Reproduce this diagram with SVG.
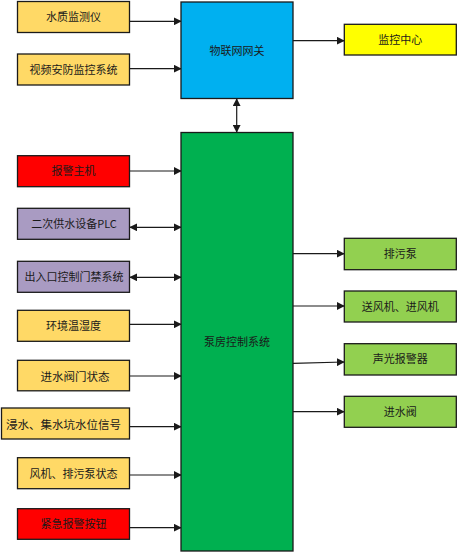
<svg xmlns="http://www.w3.org/2000/svg" width="458" height="554" viewBox="0 0 458 554">
<style>
.b{stroke:#1a1a1a;stroke-width:1.3}
.y{fill:#FFD966}.r{fill:#FF0000}.p{fill:#A99BC2}.g{fill:#92D050}
.t{font-family:"Noto Sans CJK SC","Liberation Sans",sans-serif;font-size:11px;fill:#1a1a1a;text-anchor:middle}
.c line{stroke:#1a1a1a;stroke-width:1.2}
</style>
<defs>
<marker id="ah" viewBox="0 0 10 10" refX="9" refY="5" markerWidth="8" markerHeight="8" markerUnits="userSpaceOnUse" orient="auto-start-reverse">
<path d="M0,0 L10,5 L0,10 z" fill="#1a1a1a"/>
</marker>
</defs>
<rect width="458" height="554" fill="#fff"/>
<g class="c">
<line x1="130" y1="21.3" x2="181" y2="21.3" marker-end="url(#ah)"/>
<line x1="130" y1="68.7" x2="181" y2="68.7" marker-end="url(#ah)"/>
<line x1="293" y1="40.7" x2="344" y2="40.7" marker-end="url(#ah)"/>
<line x1="236.7" y1="99" x2="236.7" y2="132" marker-start="url(#ah)" marker-end="url(#ah)"/>
<line x1="130" y1="171" x2="181" y2="171" marker-end="url(#ah)"/>
<line x1="130" y1="227.3" x2="181" y2="227.3" marker-start="url(#ah)" marker-end="url(#ah)"/>
<line x1="130" y1="277.3" x2="181" y2="277.3" marker-start="url(#ah)" marker-end="url(#ah)"/>
<line x1="130" y1="324.3" x2="181" y2="324.3" marker-end="url(#ah)"/>
<line x1="130" y1="376" x2="181" y2="376" marker-end="url(#ah)"/>
<line x1="130" y1="426.7" x2="181" y2="426.7" marker-end="url(#ah)"/>
<line x1="127" y1="475" x2="181" y2="475" marker-end="url(#ah)"/>
<line x1="130" y1="527.7" x2="181" y2="527.7" marker-end="url(#ah)"/>
<line x1="293" y1="253.7" x2="344" y2="253.7" marker-end="url(#ah)"/>
<line x1="293" y1="306" x2="344" y2="306" marker-end="url(#ah)"/>
<line x1="293" y1="363.3" x2="344" y2="362" marker-end="url(#ah)"/>
<line x1="293" y1="411.7" x2="344" y2="411.7" marker-end="url(#ah)"/>
</g>
<g id="n1"><rect class="b y" x="17.5" y="1.5" width="112" height="31"/><text class="t" x="73.5" y="21">水质监测仪</text></g>
<g id="n2"><rect class="b y" x="17.5" y="54" width="112" height="31"/><text class="t" x="73.5" y="73.5">视频安防监控系统</text></g>
<g id="gw"><rect class="b" fill="#00B0F0" x="181" y="2" width="112" height="96.5"/><text class="t" x="237" y="54.5">物联网网关</text></g>
<g id="mc"><rect class="b" fill="#FFFF00" x="344.3" y="24.3" width="112" height="30.7"/><text class="t" x="400.3" y="44">监控中心</text></g>
<g id="main"><rect class="b" fill="#00B050" x="181" y="132.5" width="112" height="418.5"/><text class="t" x="237" y="346">泵房控制系统</text></g>
<g id="n3"><rect class="b r" x="17.5" y="155.7" width="112" height="31"/><text class="t" x="73.5" y="175">报警主机</text></g>
<g id="n4"><rect class="b p" x="17.5" y="208.3" width="112" height="31"/><text class="t" x="74" y="228">二次供水设备PLC</text></g>
<g id="n5"><rect class="b p" x="17.5" y="261.3" width="112" height="31"/><text class="t" x="74" y="281">出入口控制门禁系统</text></g>
<g id="n6"><rect class="b y" x="17.5" y="310.3" width="112" height="31"/><text class="t" x="73.5" y="330">环境温湿度</text></g>
<g id="n7"><rect class="b y" x="17.5" y="360.3" width="112" height="30.5"/><text class="t" x="75" y="380.5" style="font-size:11.5px">进水阀门状态</text></g>
<g id="n8"><rect class="b y" x="1.5" y="408" width="128" height="31"/><text class="t" x="63.5" y="428.5" style="font-size:11.5px">浸水、集水坑水位信号</text></g>
<g id="n9"><rect class="b y" x="17.5" y="457.7" width="112" height="31"/><text class="t" x="73.5" y="477.5">风机、排污泵状态</text></g>
<g id="n10"><rect class="b r" x="17.5" y="508.7" width="112" height="30.6"/><text class="t" x="73.5" y="528">紧急报警按钮</text></g>
<g id="o1"><rect class="b g" x="344.3" y="238.3" width="112" height="31.4"/><text class="t" x="400.3" y="258">排污泵</text></g>
<g id="o2"><rect class="b g" x="344.3" y="291" width="112" height="31"/><text class="t" x="400.3" y="310.5">送风机、进风机</text></g>
<g id="o3"><rect class="b g" x="344.3" y="343.7" width="112" height="31.3"/><text class="t" x="400.3" y="363">声光报警器</text></g>
<g id="o4"><rect class="b g" x="344.3" y="396.3" width="112" height="31"/><text class="t" x="400.3" y="416">进水阀</text></g>
</svg>
